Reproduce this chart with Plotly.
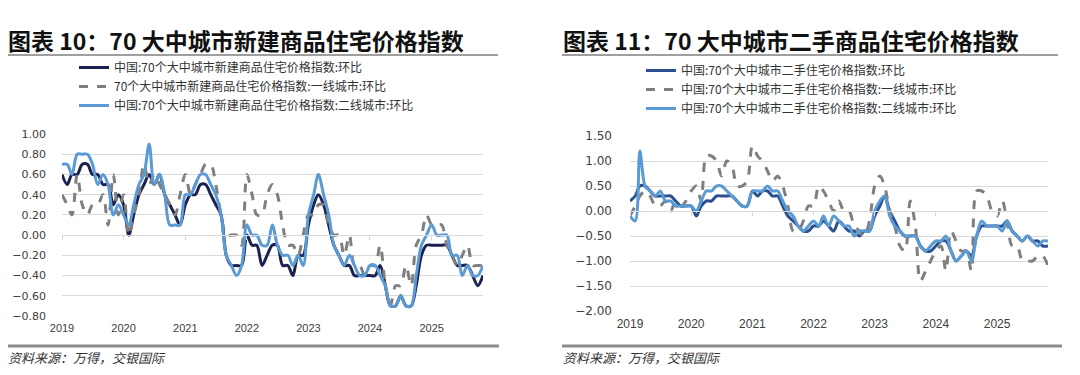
import pandas as pd
import plotly.graph_objects as go

# ---------------- data ----------------
dates = pd.date_range("2019-01-01", periods=83, freq="MS")

# Left chart: 70 大中城市新建商品住宅价格指数 (环比, %)
new_national = [
    0.6, 0.5, 0.6, 0.6, 0.7, 0.7, 0.6, 0.6, 0.5, 0.5, 0.3, 0.4,
    0.3, 0.0, 0.2, 0.4, 0.5, 0.6, 0.5, 0.6, 0.4, 0.3, 0.2, 0.1,
    0.3, 0.4, 0.4, 0.5, 0.5, 0.4, 0.3, 0.2, -0.2, -0.3, -0.3, -0.3,
    0.0, -0.1, -0.1, -0.3, -0.2, -0.1, -0.1, -0.3, -0.3, -0.4, -0.2, -0.2,
    0.1, 0.3, 0.4, 0.3, 0.1, -0.1, -0.2, -0.3, -0.3, -0.4, -0.4, -0.4,
    -0.4, -0.4, -0.3, -0.5, -0.7, -0.7, -0.6, -0.7, -0.7, -0.5, -0.2, -0.1,
    -0.1, -0.1, -0.1, -0.1, -0.2, -0.3, -0.3, -0.3, -0.4, -0.5, -0.4,
]
new_tier1 = [
    0.4, 0.3, 0.2, 0.6, 0.3, 0.2, 0.3, 0.3, 0.4, 0.1, 0.6, 0.2,
    0.4, 0.0, 0.2, 0.4, 0.7, 0.5, 0.6, 0.5, 0.4, 0.3, 0.2, 0.4,
    0.6, 0.4, 0.5, 0.6, 0.7, 0.7, 0.5, 0.2, 0.0, 0.0, 0.0, -0.1,
    0.6, 0.4, 0.2, 0.2, 0.4, 0.5, 0.4, 0.1, -0.1, -0.1, -0.2, 0.0,
    0.2, 0.2, 0.3, 0.3, 0.1, 0.0, 0.0, -0.2, 0.0, -0.3, -0.3, -0.4,
    -0.3, -0.3, -0.1, -0.5, -0.7, -0.5, -0.5, -0.3, -0.5, -0.1, 0.0, 0.2,
    0.1, 0.1, 0.1, -0.1, -0.2, -0.3, -0.2, -0.1, -0.3, -0.3, -0.3,
]
new_tier2 = [
    0.7, 0.7, 0.6, 0.8, 0.8, 0.8, 0.7, 0.5, 0.6, 0.5, 0.2, 0.3,
    0.2, 0.1, 0.3, 0.5, 0.6, 0.9, 0.5, 0.6, 0.4, 0.1, 0.1, 0.1,
    0.4, 0.4, 0.5, 0.6, 0.6, 0.5, 0.4, 0.2, -0.2, -0.3, -0.4, -0.3,
    0.1, 0.0, 0.0, -0.1, -0.1, 0.1, -0.1, -0.2, -0.2, -0.3, -0.2, -0.3,
    0.2, 0.4, 0.6, 0.4, 0.2, -0.1, -0.2, -0.3, -0.2, -0.3, -0.4, -0.4,
    -0.3, -0.3, -0.4, -0.5, -0.7, -0.7, -0.6, -0.7, -0.7, -0.4, -0.1, 0.0,
    0.1, 0.0, 0.0, 0.0, -0.2, -0.2, -0.4, -0.3, -0.4, -0.4, -0.3,
]

# Right chart: 70 大中城市二手住宅价格指数 (环比, %)
sec_national = [
    0.2, 0.3, 0.5, 0.5, 0.4, 0.3, 0.3, 0.3, 0.3, 0.2, 0.1, 0.1,
    0.1, -0.1, 0.1, 0.2, 0.2, 0.3, 0.3, 0.3, 0.3, 0.2, 0.1, 0.1,
    0.4, 0.3, 0.4, 0.4, 0.3, 0.3, 0.1, -0.1, -0.2, -0.3, -0.4, -0.4,
    -0.3, -0.3, -0.2, -0.3, -0.4, -0.2, -0.3, -0.4, -0.4, -0.5, -0.4, -0.4,
    -0.1, 0.1, 0.3, 0.0, -0.2, -0.4, -0.5, -0.5, -0.5, -0.7, -0.8, -0.8,
    -0.7, -0.6, -0.6, -0.8, -1.0, -0.9, -0.8, -0.9, -0.5, -0.3, -0.3, -0.3,
    -0.3, -0.3, -0.2, -0.4, -0.5, -0.6, -0.5, -0.6, -0.6, -0.7, -0.7,
]
sec_tier1 = [
    -0.1, 0.1, 0.3, 0.4, 0.3, 0.1, 0.1, 0.2, 0.0, 0.2, 0.1, 0.2,
    0.4, 0.5, 0.2, 1.1, 1.1, 1.0, 0.7, 1.0, 0.9, 0.5, 0.5, 0.6,
    1.3, 1.1, 1.0, 0.8, 0.6, 0.7, 0.5, 0.1, -0.4, -0.4, -0.2, 0.1,
    0.1, 0.5, 0.4, 0.2, 0.0, 0.2, 0.0, 0.0, -0.3, -0.4, -0.5, -0.2,
    0.5, 0.7, 0.5, 0.0, -0.3, -0.7, -0.8, 0.2, -0.3, -1.4, -1.2, -1.0,
    -0.8, -0.7, -1.2, -0.4, -0.6, -0.8, -0.8, -1.2, 0.4, 0.4, 0.3, 0.0,
    -0.1, 0.2, -0.2, -0.7, -0.7, -1.0, -1.0, -1.0, -0.9, -0.9, -1.1,
]
sec_tier2 = [
    -0.1, -0.2, 1.2, 0.5, 0.4, 0.3, 0.4, 0.2, 0.2, 0.1, 0.1, 0.1,
    0.1, 0.0, 0.2, 0.4, 0.4, 0.5, 0.5, 0.4, 0.3, 0.2, 0.1, 0.1,
    0.4, 0.4, 0.4, 0.5, 0.4, 0.4, 0.2, 0.0, -0.1, -0.3, -0.4, -0.3,
    -0.2, -0.3, -0.1, -0.3, -0.1, -0.2, -0.3, -0.3, -0.5, -0.4, -0.4, -0.4,
    0.0, 0.2, 0.3, -0.1, -0.3, -0.4, -0.5, -0.5, -0.5, -0.7, -0.8, -0.7,
    -0.6, -0.6, -0.5, -0.8, -1.0, -0.9, -0.8, -1.0, -0.5, -0.2, -0.3, -0.3,
    -0.3, -0.4, -0.2, -0.4, -0.5, -0.6, -0.5, -0.6, -0.7, -0.6, -0.6,
]

year_ticks = pd.date_range("2019-01-01", "2025-01-01", freq="YS")
year_labels = [str(d.year) for d in year_ticks]

left_names = [
    "中国:70个大中城市新建商品住宅价格指数:环比",
    "70个大中城市新建商品住宅价格指数:一线城市:环比",
    "中国:70个大中城市新建商品住宅价格指数:二线城市:环比",
]
right_names = [
    "中国:70个大中城市二手住宅价格指数:环比",
    "中国:70个大中城市二手住宅价格指数:一线城市:环比",
    "中国:70个大中城市二手住宅价格指数:二线城市:环比",
]
left_title = "图表 10：70 大中城市新建商品住宅价格指数"
right_title = "图表 11：70 大中城市二手商品住宅价格指数"
source_text = "资料来源：万得，交银国际"

# ---------------- styling ----------------
# the page body has an 8px margin, so the figure is drawn at (8, 8)
OFF = 8
W, H = 1080 - OFF, 375 - OFF
FONT = "Noto Sans CJK SC"
NAVY_L = "#1b2150"
NAVY_R = "#2c4f8f"
GREY = "#7f7f7f"
LBLUE = "#5b9bd5"
GRID = "#d9d9d9"


def px_x(p):
    return (p - OFF) / W


def px_y(p):
    return 1 - (p - OFF) / H


L_DOM = [px_x(62), px_x(483)]
R_DOM = [px_x(630), px_x(1048)]
L_YDOM = [px_y(316), px_y(134)]
R_YDOM = [px_y(311), px_y(136)]
L_RANGE = [-0.8, 1.0]
R_RANGE = [-2.0, 1.5]

fig = go.Figure()

left_series = [new_national, new_tier1, new_tier2]
right_series = [sec_national, sec_tier1, sec_tier2]
left_styles = [(NAVY_L, "solid"), (GREY, "dash"), (LBLUE, "solid")]
right_styles = [(NAVY_R, "solid"), (GREY, "dash"), (LBLUE, "solid")]

for name, vals, (col, dash) in zip(left_names, left_series, left_styles):
    fig.add_trace(go.Scatter(
        x=dates, y=vals, name=name, mode="lines",
        line=dict(color=col, width=3, dash=dash, shape="spline", smoothing=0.9),
        xaxis="x", yaxis="y", legend="legend",
    ))
for name, vals, (col, dash) in zip(right_names, right_series, right_styles):
    fig.add_trace(go.Scatter(
        x=dates, y=vals, name=name, mode="lines",
        line=dict(color=col, width=3, dash=dash, shape="spline", smoothing=0.9),
        xaxis="x2", yaxis="y2", legend="legend2",
    ))

xrange = [dates[0], dates[-1]]


def x_axis(dom, anchor, size):
    return dict(
        domain=dom, anchor=anchor,
        type="date", range=xrange, tickvals=year_ticks, ticktext=year_labels,
        showgrid=False, zeroline=False, showline=False, ticks="",
        tickfont=dict(family="Liberation Sans", size=size, color="#404040"),
        ticklabelstandoff=4, automargin=False,
    )


def y_axis(dom, anchor, rng, step, size, standoff):
    return dict(
        domain=dom, anchor=anchor, range=rng, dtick=step,
        tickformat=".2f", showgrid=True, gridcolor=GRID, gridwidth=1,
        zeroline=False, showline=False, ticks="",
        tickfont=dict(family="DejaVu Sans", size=size, color="#404040"),
        ticklabelstandoff=standoff, automargin=False,
    )


def zero_pos(dom, rng):
    return dom[0] + (0 - rng[0]) / (rng[1] - rng[0]) * (dom[1] - dom[0])


zero_axis = dict(
    type="date", range=xrange, tickvals=year_ticks, showticklabels=False,
    showline=True, linecolor=GRID, linewidth=1, ticks="outside",
    ticklen=4, tickcolor=GRID, showgrid=False, zeroline=False, automargin=False,
)

legend_font = dict(family=FONT, size=12, color="#333333")

fig.update_layout(
    template="none",
    width=W, height=H,
    margin=dict(l=0, r=0, t=0, b=0, pad=0, autoexpand=False),
    paper_bgcolor="white", plot_bgcolor="white",
    font=dict(family=FONT, color="#333333"),
    xaxis=x_axis(L_DOM, "y", 11),
    yaxis=y_axis(L_YDOM, "x", L_RANGE, 0.2, 11, 15),
    xaxis2=x_axis(R_DOM, "y2", 12),
    yaxis2=y_axis(R_YDOM, "x2", R_RANGE, 0.5, 12, 17),
    xaxis3=dict(overlaying="x", anchor="free", position=zero_pos(L_YDOM, L_RANGE), **zero_axis),
    xaxis4=dict(overlaying="x2", anchor="free", position=zero_pos(R_YDOM, R_RANGE), **zero_axis),
    legend=dict(x=px_x(74), y=px_y(53), xanchor="left", yanchor="top",
                bgcolor="rgba(0,0,0,0)", font=legend_font,
                itemwidth=30, tracegroupgap=0),
    legend2=dict(x=px_x(641), y=px_y(56), xanchor="left", yanchor="top",
                 bgcolor="rgba(0,0,0,0)", font=legend_font,
                 itemwidth=30, tracegroupgap=0),
    showlegend=True,
)

# empty helper traces so the zero-line axes are drawn
fig.add_trace(go.Scatter(x=[], y=[], xaxis="x3", yaxis="y", showlegend=False, hoverinfo="skip"))
fig.add_trace(go.Scatter(x=[], y=[], xaxis="x4", yaxis="y2", showlegend=False, hoverinfo="skip"))

# titles and source notes
for text, x0 in [(left_title, 6), (right_title, 561)]:
    fig.add_annotation(
        text=f"<b>{text}</b>", x=px_x(x0), y=px_y(40), xref="paper", yref="paper",
        xanchor="left", yanchor="middle", showarrow=False,
        font=dict(family=FONT, size=23, color="#111111"),
    )
    fig.add_annotation(
        text=f"<i>{source_text}</i>", x=px_x(x0), y=px_y(357), xref="paper", yref="paper",
        xanchor="left", yanchor="middle", showarrow=False,
        font=dict(family=FONT, size=13, color="#333333"),
    )

# separator rules
for x0, x1 in [(8, 498), (562, 1058)]:
    fig.add_shape(type="line", xref="paper", yref="paper",
                  x0=px_x(x0), x1=px_x(x1), y0=px_y(55), y1=px_y(55),
                  line=dict(color="#7f7f7f", width=1.5))
for x0, x1 in [(8, 499), (562, 1062)]:
    fig.add_shape(type="line", xref="paper", yref="paper",
                  x0=px_x(x0), x1=px_x(x1), y0=px_y(346), y1=px_y(346),
                  line=dict(color="#8c8c8c", width=3))

fig.write_html("out.html")
